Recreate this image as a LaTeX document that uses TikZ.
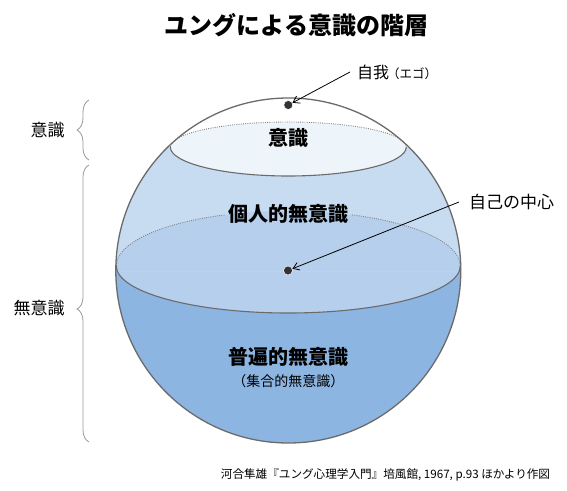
\documentclass[tikz,border=0pt]{standalone}
\usepackage{fontspec}
\setmainfont{Noto Sans CJK JP}
\usetikzlibrary{decorations.pathreplacing,arrows.meta}
\definecolor{capc}{HTML}{EEF5FA}
\definecolor{upc}{HTML}{C7DBF1}
\definecolor{midc}{HTML}{B6CFEC}
\definecolor{lowc}{HTML}{8DB5E2}
\definecolor{edgec}{HTML}{6B6B6B}
\definecolor{dotc}{HTML}{333333}
\newcommand{\fs}[1]{\fontsize{#1}{#1}\selectfont}
\begin{document}
\begin{tikzpicture}[x=1pt,y=-1pt,
  solidline/.style={draw=edgec,line width=1.1pt},
  dotline/.style={draw=edgec!85,line width=0.9pt,dash pattern=on 0.9pt off 1.3pt},
  bigbold/.style={font=\bfseries\fs{20}},
  sidelbl/.style={font=\fs{17}},
  arr/.style={draw=black,line width=0.8pt,-{Straight Barb[length=6pt,width=8pt,line width=0.8pt]}},
  brace/.style={draw=gray!80,line width=0.8pt,decorate,decoration={brace,amplitude=12pt}},
  blackdot/.style={circle,fill=dotc,draw=white,line width=0.5pt,minimum size=9pt,inner sep=0pt}]
\useasboundingbox (0,0) rectangle (567,490);
\fill[white] (0,0) rectangle (567,490);
\coordinate (C) at (288.3,270.5);
% sphere fills
\begin{scope}
\clip (C) circle[radius=172.5pt];
\fill[lowc] (0,0) rectangle (567,490);
\fill[upc] (0,0) rectangle (567,266);
\fill[midc] (116.3,266) arc[start angle=180,end angle=0,x radius=172pt,y radius=55pt]
  arc[start angle=0,end angle=-180,x radius=172pt,y radius=47pt] -- cycle;
\fill[white] (0,0) rectangle (567,147);
\fill[capc] (170.3,147) arc[start angle=180,end angle=0,x radius=118pt,y radius=25pt]
  arc[start angle=0,end angle=-180,x radius=118pt,y radius=29pt] -- cycle;
% equator ellipse lines
\draw[draw=midc!70!gray!60,line width=0.6pt,dash pattern=on 0.8pt off 1.5pt] (117,271) -- (460,271);
\draw[dotline] (116.3,266) arc[start angle=180,end angle=111.5,x radius=172pt,y radius=55pt];
\draw[dotline] (460.3,266) arc[start angle=0,end angle=68.5,x radius=172pt,y radius=55pt];
\draw[solidline] (116.3,266) arc[start angle=180,end angle=360,x radius=172pt,y radius=47pt];
% cap ellipse lines
\draw[dotline] (170.3,147) arc[start angle=180,end angle=0,x radius=118pt,y radius=25pt];
\draw[solidline] (170.3,147) arc[start angle=180,end angle=360,x radius=118pt,y radius=29pt];
\end{scope}
\draw[draw=edgec,line width=1.3pt] (C) circle[radius=172.5pt];
% texts inside
\node[font=\bfseries\fs{24}] (title) at (296.5,25) {ユングによる意識の階層};
\node[bigbold] (cons) at (288.3,138) {意識};
\node[bigbold] (pers) at (288.3,213.5) {個人的無意識};
\node[bigbold] (coll) at (288.3,357) {普遍的無意識};
\node[font=\fs{14}] (collsub) at (288.3,381) {（集合的無意識）};
% dots
\node[blackdot] (topdot) at (288.3,105) {};
\node[blackdot] (cdot) at (288,270.5) {};
% right labels
\node[anchor=west,inner xsep=0pt,font=\fs{16}] (ego) at (357,72) {自我\hspace{-2pt}{\fs{12.5}（エゴ）}};
\node[anchor=west,inner xsep=0pt,font=\fs{17}] (self) at (469,202) {自己の中心};
\draw[arr] ([xshift=-7pt]ego.west) -- (topdot);
\draw[arr] ([xshift=-10pt]self.west) -- (cdot);
% left braces
\coordinate (b1s) at (89,160);
\coordinate (b1e) at (89,100);
\coordinate (b2s) at (89,442);
\coordinate (b2e) at (89,165);
\draw[brace] (b1s) -- (b1e);
\draw[brace,decoration={aspect=0.48}] (b2s) -- (b2e);
\node[sidelbl] (lcons) at (47.5,130) {意識};
\node[sidelbl] (luncons) at (39,308) {無意識};
% source
\node[font=\fs{11.6}] (src) at (385.5,475) {河合隼雄『ユング心理学入門』培風館, 1967, p.93 ほかより作図};
\end{tikzpicture}
\end{document}
